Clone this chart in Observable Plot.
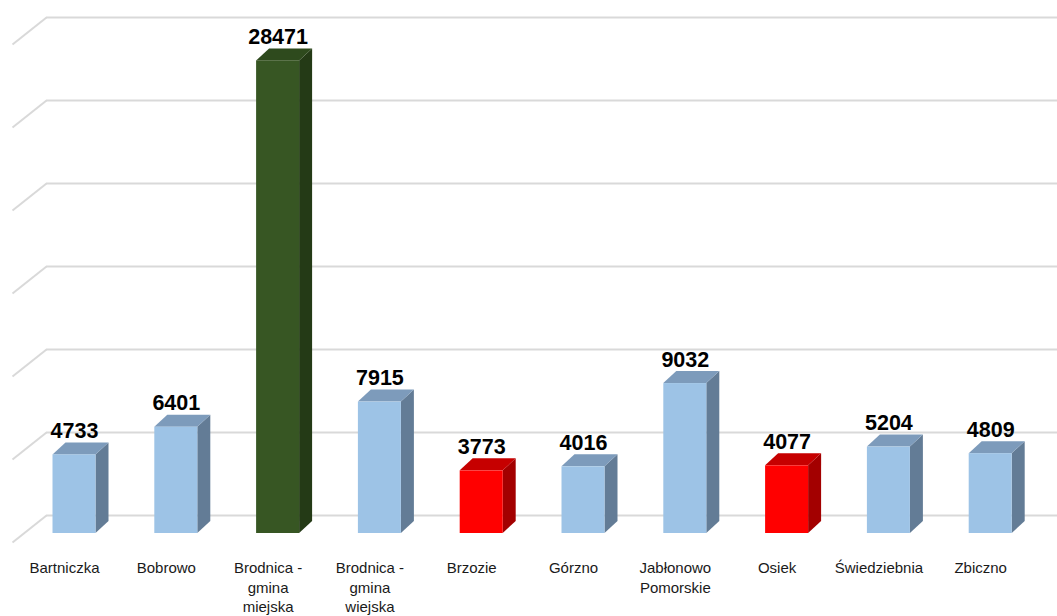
<!DOCTYPE html>
<html><head><meta charset="utf-8">
<script src="https://cdn.jsdelivr.net/npm/d3@7"></script>
<script src="https://cdn.jsdelivr.net/npm/@observablehq/plot@0.6"></script>
<style>html,body{margin:0;padding:0;background:#fff;overflow:hidden}</style>
</head><body><div id="chart"></div>
<script>
const categories = ["Bartniczka","Bobrowo","Brodnica -\ngmina\nmiejska","Brodnica -\ngmina\nwiejska","Brzozie","Górzno","Jabłonowo\nPomorskie","Osiek","Świedziebnia","Zbiczno"];
const values = [4733,6401,28471,7915,3773,4016,9032,4077,5204,4809];
const groups = ["other","other","city","other","marked","other","other","marked","other","other"];
const gridTicks = [0,5000,10000,15000,20000,25000,30000];

const palette = {
  other:  {front:"#9dc3e6", side:"#637c96", top:"#7d9bbb"},
  city:   {front:"#375623", side:"#243a16", top:"#2e4a1d"},
  marked: {front:"#ff0000", side:"#a30000", top:"#c60000"}
};

const W = 1057, H = 616;
const X0 = 74, XSTEP = 101.8;          // pixel position of first category, spacing
const Y0 = 533, YSPAN = 498, YMAX = 30000;
const ux = px => px / XSTEP;            // pixels -> x units
const uy = px => px * YMAX / YSPAN;     // pixels -> y units

const hw = ux(21.5), d = ux(13), dd = uy(12);
const back = uy(18);
const xWall = ux(46 - X0), xFront = ux(12 - X0), xRight = ux(W + 5 - X0);
const diag = uy(27);

const bars = categories.map((c, i) => ({i, c, v: values[i], g: groups[i]}));

const sideFaces = bars.flatMap(b => [
  {i: b.i, x: b.i + hw,     y1: 0,  y2: b.v,      f: palette[b.g].side},
  {i: b.i, x: b.i + hw + d, y1: dd, y2: b.v + dd, f: palette[b.g].side}
]);
const topFaces = bars.flatMap(b => [
  {i: b.i, x: b.i - hw,     y1: b.v,      y2: b.v,      f: palette[b.g].top},
  {i: b.i, x: b.i - hw + d, y1: b.v,      y2: b.v + dd, f: palette[b.g].top},
  {i: b.i, x: b.i + hw,     y1: b.v,      y2: b.v + dd, f: palette[b.g].top},
  {i: b.i, x: b.i + hw + d, y1: b.v + dd, y2: b.v + dd, f: palette[b.g].top}
]);

const chart = Plot.plot({
  width: W, height: H,
  margin: 0,
  style: {background: "#fff", fontFamily: "Liberation Sans, Arial, sans-serif"},
  x: {domain: [0, 9], range: [X0, X0 + 9 * XSTEP], axis: null},
  y: {domain: [0, YMAX], range: [Y0, Y0 - YSPAN], axis: null},
  color: {type: "identity"},
  marks: [
    Plot.ruleY(gridTicks, {y: t => t + back, x1: xWall, x2: xRight, stroke: "#d9d9d9", strokeWidth: 2}),
    Plot.link(gridTicks, {x1: xWall, y1: t => t + back, x2: xFront, y2: t => t + back - diag, stroke: "#d9d9d9", strokeWidth: 2}),
    Plot.areaY(sideFaces, {x: "x", y1: "y1", y2: "y2", z: "i", fill: "f", curve: "linear"}),
    Plot.areaY(topFaces, {x: "x", y1: "y1", y2: "y2", z: "i", fill: "f", curve: "linear"}),
    Plot.rect(bars, {x1: b => b.i - hw, x2: b => b.i + hw, y1: 0, y2: "v", fill: b => palette[b.g].front}),
    Plot.text(bars, {x: "i", y: "v", text: b => String(b.v), lineAnchor: "bottom", dy: -17,
      fontSize: 21.5, fontWeight: "bold", fill: "#000", fontFamily: "Liberation Sans, Arial, sans-serif"}),
    Plot.text(bars, {x: "i", y: 0, text: "c", lineAnchor: "top", dy: 26, dx: -10,
      fontSize: 15, lineHeight: 1.3, fill: "#1a1a1a", fontFamily: "Liberation Sans, Arial, sans-serif"})
  ]
});
document.getElementById("chart").appendChild(chart);
</script>
</body></html>
